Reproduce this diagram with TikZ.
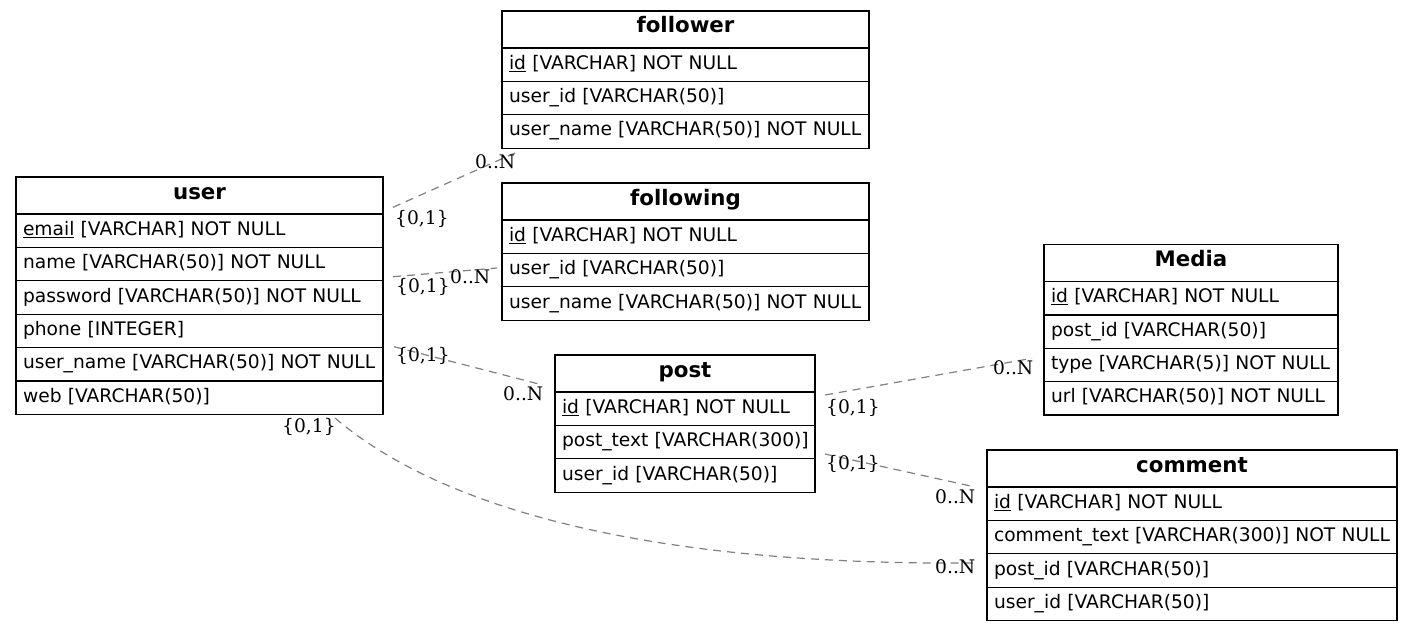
\documentclass[tikz,border=0pt]{standalone}
\usepackage{fontspec}
\setmainfont{DejaVu Sans}
\newfontfamily\lblfont{DejaVu Serif}
\definecolor{relgray}{RGB}{128,128,128}
% primary key: underlined field name
\newcommand\pk[1]{\setbox0=\hbox{#1}\rlap{\rule[-2.6pt]{\wd0}{1pt}}\box0\relax}
\begin{document}
\begin{tikzpicture}[x=1pt,y=-1pt,
  tbl/.style={draw, line width=1.33pt, outer sep=0pt, inner xsep=7pt, inner ysep=0pt,
    anchor=north west},
  hdr/.style={tbl, minimum height=37pt, align=center, text height=12pt, text depth=5pt,
    font=\fontsize{21.33}{24}\selectfont\bfseries},
  fld/.style={tbl, minimum height=33.4pt, align=left, text height=13.5pt, text depth=4.5pt,
    font=\fontsize{18.67}{22}\selectfont},
  rel/.style={draw=relgray, line width=1.2pt, dash pattern=on 8pt off 6pt},
  card/.style={anchor=base west, inner sep=0pt,
    font=\lblfont\fontsize{18.67}{22}\selectfont}]
\path[use as bounding box] (0,0) rectangle (1412,631);

% user
\node[hdr, text width=353pt] (user) at (16,177) {user};
\node[fld, text width=353pt] (user-email) at (user.south west) {\mbox{\pk{email} [VARCHAR] NOT NULL}};
\node[fld, text width=353pt] (user-name) at (user-email.south west) {\mbox{name [VARCHAR(50)] NOT NULL}};
\node[fld, text width=353pt] (user-password) at (user-name.south west) {\mbox{password [VARCHAR(50)] NOT NULL}};
\node[fld, text width=353pt] (user-phone) at (user-password.south west) {\mbox{phone [INTEGER]}};
\node[fld, text width=353pt] (user-username) at (user-phone.south west) {\mbox{user\_name [VARCHAR(50)] NOT NULL}};
\node[fld, text width=353pt] (user-web) at (user-username.south west) {\mbox{web [VARCHAR(50)]}};

% follower
\node[hdr, text width=353pt] (follower) at (502,11) {follower};
\node[fld, text width=353pt] (follower-id) at (follower.south west) {\mbox{\pk{id} [VARCHAR] NOT NULL}};
\node[fld, text width=353pt] (follower-userid) at (follower-id.south west) {\mbox{user\_id [VARCHAR(50)]}};
\node[fld, text width=353pt] (follower-username) at (follower-userid.south west) {\mbox{user\_name [VARCHAR(50)] NOT NULL}};

% following
\node[hdr, text width=353pt] (following) at (502,183) {following};
\node[fld, text width=353pt] (following-id) at (following.south west) {\mbox{\pk{id} [VARCHAR] NOT NULL}};
\node[fld, text width=353pt] (following-userid) at (following-id.south west) {\mbox{user\_id [VARCHAR(50)]}};
\node[fld, text width=353pt] (following-username) at (following-userid.south west) {\mbox{user\_name [VARCHAR(50)] NOT NULL}};

% post
\node[hdr, text width=246pt] (post) at (555,355) {post};
\node[fld, text width=246pt] (post-id) at (post.south west) {\mbox{\pk{id} [VARCHAR] NOT NULL}};
\node[fld, text width=246pt] (post-text) at (post-id.south west) {\mbox{post\_text [VARCHAR(300)]}};
\node[fld, text width=246pt] (post-userid) at (post-text.south west) {\mbox{user\_id [VARCHAR(50)]}};

% Media
\node[hdr, text width=280pt] (media) at (1044,244.5) {Media};
\node[fld, text width=280pt] (media-id) at (media.south west) {\mbox{\pk{id} [VARCHAR] NOT NULL}};
\node[fld, text width=280pt] (media-postid) at (media-id.south west) {\mbox{post\_id [VARCHAR(50)]}};
\node[fld, text width=280pt] (media-type) at (media-postid.south west) {\mbox{type [VARCHAR(5)] NOT NULL}};
\node[fld, text width=280pt] (media-url) at (media-type.south west) {\mbox{url [VARCHAR(50)] NOT NULL}};

% comment
\node[hdr, text width=396pt] (comment) at (987,450) {comment};
\node[fld, text width=396pt] (comment-id) at (comment.south west) {\mbox{\pk{id} [VARCHAR] NOT NULL}};
\node[fld, text width=396pt] (comment-text) at (comment-id.south west) {\mbox{comment\_text [VARCHAR(300)] NOT NULL}};
\node[fld, text width=396pt] (comment-postid) at (comment-text.south west) {\mbox{post\_id [VARCHAR(50)]}};
\node[fld, text width=396pt] (comment-userid) at (comment-postid.south west) {\mbox{user\_id [VARCHAR(50)]}};

% relationship end points
\coordinate (r1a) at (393,207.3);  \coordinate (r1b) at (515,153);
\coordinate (r2a) at (393,276.7);  \coordinate (r2b) at (497,268);
\coordinate (r3a) at (394,346.7);  \coordinate (r3b) at (540,384.3);
\coordinate (r4a) at (335,418);    \coordinate (r4b) at (976,563);
\coordinate (r5a) at (825,395);    \coordinate (r5b) at (1032,358.3);
\coordinate (r6a) at (825,454);    \coordinate (r6b) at (974,486.7);

% relationships
\draw[rel] (r1a) -- (r1b);
\draw[rel] (r2a) -- (r2b);
\draw[rel] (r3a) -- (r3b);
\draw[rel] (r4a) .. controls (425,495) and (610,566) .. (r4b);
\draw[rel] (r5a) -- (r5b);
\draw[rel] (r6a) -- (r6b);

% cardinalities
\node[card] (c1a) at (395,224) {\{0,1\}};
\node[card] (c1b) at (475,168) {0..N};
\node[card] (c2a) at (396,292) {\{0,1\}};
\node[card] (c2b) at (450,283.5) {0..N};
\node[card] (c3a) at (396,361.5) {\{0,1\}};
\node[card] (c3b) at (503,400) {0..N};
\node[card] (c4a) at (282,432) {\{0,1\}};
\node[card] (c4b) at (935,573.5) {0..N};
\node[card] (c5a) at (826,413) {\{0,1\}};
\node[card] (c5b) at (993,374) {0..N};
\node[card] (c6a) at (826,469) {\{0,1\}};
\node[card] (c6b) at (935,503) {0..N};
\end{tikzpicture}
\end{document}
